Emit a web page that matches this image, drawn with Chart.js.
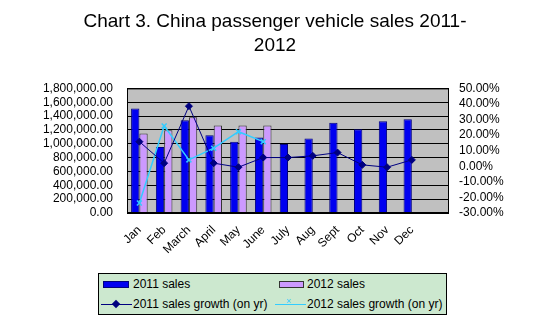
<!DOCTYPE html>
<html>
<head>
<meta charset="utf-8">
<script src="https://cdn.jsdelivr.net/npm/chart.js@4/dist/chart.umd.min.js"></script>
<style>
  body { margin: 0; background: #fff; }
  #wrap { position: relative; width: 550px; height: 323px; }
  #legend {
    position: absolute; left: 98px; top: 273px; width: 347px; height: 40px;
    background: #cce8cf; border: 1px solid #000;
    font: 12px Arial, "Liberation Sans", sans-serif; color: #000;
  }
  .item { position: absolute; white-space: nowrap; }
  .sw { position: absolute; box-sizing: border-box; }
</style>
</head>
<body>
<div id="wrap">
  <canvas id="myChart" width="550" height="323"></canvas>
  <div id="legend">
    <div class="sw" style="left:4px;top:7px;width:26px;height:7px;background:#0000f0;border:1px solid #000080"></div>
    <div class="item" style="left:34px;top:3px">2011 sales</div>
    <div class="sw" style="left:180px;top:7px;width:25px;height:7px;background:#cc99ff;border:1px solid #333"></div>
    <div class="item" style="left:208px;top:3px">2012 sales</div>

    <div class="sw" style="left:2px;top:30px;width:31px;height:1px;background:#000080"></div>
    <div class="sw" style="left:14px;top:27px;width:6px;height:6px;background:#000080;transform:rotate(45deg)"></div>
    <div class="item" style="left:34px;top:23px">2011 sales growth (on yr)</div>
    <div class="sw" style="left:176px;top:30px;width:31px;height:1px;background:#33ccff"></div>
    <div class="item" style="left:187px;top:22px;color:#33ccff;font-size:9px">×</div>
    <div class="item" style="left:208px;top:23px">2012 sales growth (on yr)</div>
  </div>
</div>
<script>
const months = ["Jan", "Feb", "March", "April", "May", "June", "July", "Aug", "Sept", "Oct", "Nov", "Dec", ""];
const sales2011 = [1510000, 955000, 1340000, 1125000, 1030000, 1090000, 995000, 1075000, 1305000, 1210000, 1325000, 1355000, null];
const sales2012 = [1150000, 1195000, 1385000, 1265000, 1265000, 1265000, null, null, null, null, null, null, null];
const growth2011 = [15.8, 2.0, 38.6, 2.0, -0.6, 5.6, 5.6, 6.7, 8.8, 0.9, -0.6, 4.1, null];
const growth2012 = [-23.6, 25.9, 4.1, 11.6, 22.2, 15.8, null, null, null, null, null, null, null];
const titleLines = ["Chart 3. China passenger vehicle sales 2011-", "2012"];

const font = { family: "Arial, 'Liberation Sans', sans-serif", size: 12 };

// grey plot background with black frame
const plotFrame = {
    id: "plotFrame",
    beforeDraw(chart) {
        const { ctx, chartArea: a } = chart;
        ctx.save();
        ctx.fillStyle = "#c0c0c0";
        ctx.fillRect(a.left, a.top, a.right - a.left, a.bottom - a.top);
        ctx.restore();
    },
    afterDatasetsDraw(chart) {
        const { ctx, chartArea: a } = chart;
        ctx.save();
        ctx.strokeStyle = "#000";
        ctx.lineWidth = 1;
        ctx.strokeRect(a.left + 0.5, a.top + 0.5, a.right - a.left - 1, a.bottom - a.top - 1);
        ctx.restore();
    },
};

const data = {
    labels: months,
    datasets: [
        {
            type: "line",
            label: "2011 sales growth (on yr)",
            data: growth2011,
            yAxisID: "y1",
            borderColor: "#000080",
            backgroundColor: "#000080",
            borderWidth: 1,
            pointStyle: "rectRot",
            pointRadius: 3.5,
            tension: 0,
            order: 0,
        },
        {
            type: "line",
            label: "2012 sales growth (on yr)",
            data: growth2012,
            yAxisID: "y1",
            borderColor: "#33ccff",
            backgroundColor: "#33ccff",
            borderWidth: 1.5,
            pointStyle: "crossRot",
            pointRadius: 3.5,
            pointBorderWidth: 1.5,
            tension: 0,
            order: 0,
        },
        {
            label: "2011 sales",
            data: sales2011,
            backgroundColor: "#0000f0",
            borderColor: "#000080",
            borderWidth: 1,
            categoryPercentage: 0.67,
            barPercentage: 1,
            order: 1,
        },
        {
            label: "2012 sales",
            data: sales2012,
            backgroundColor: "#cc99ff",
            borderColor: "#333333",
            borderWidth: 1,
            categoryPercentage: 0.67,
            barPercentage: 1,
            order: 1,
        },
    ],
};

const config = {
    type: "bar",
    data: data,
    plugins: [plotFrame],
    options: {
        responsive: false,
        animation: false,
        layout: { padding: 0 },
        plugins: {
            legend: { display: false },
            tooltip: { enabled: false },
            title: {
                display: true,
                text: titleLines,
                color: "#000",
                font: { family: font.family, size: 19, weight: "normal", lineHeight: 1.3 },
                padding: { top: 9, bottom: 30 },
            },
        },
        scales: {
            x: {
                grid: { display: false },
                border: { display: false },
                ticks: { color: "#000", font: font, autoSkip: false, maxRotation: 45, minRotation: 45, padding: 2 },
                afterFit(scale) { scale.height = 110; },
            },
            y: {
                position: "left",
                min: 0,
                max: 1800000,
                ticks: {
                    stepSize: 200000,
                    autoSkip: false,
                    color: "#000",
                    font: font,
                    padding: 14,
                    callback: (v) => v.toLocaleString("en-US", { minimumFractionDigits: 2, maximumFractionDigits: 2 }),
                },
                grid: { color: "#000", drawTicks: false, lineWidth: 1 },
                border: { display: false },
                afterFit(scale) { scale.width = 127; },
            },
            y1: {
                position: "right",
                min: -30,
                max: 50,
                ticks: {
                    stepSize: 10,
                    autoSkip: false,
                    color: "#000",
                    font: font,
                    padding: 10,
                    callback: (v) => v.toFixed(2) + "%",
                },
                grid: { display: false, drawTicks: false },
                border: { display: false },
                afterFit(scale) { scale.width = 101; },
            },
        },
    },
};

new Chart(document.getElementById("myChart"), config);
</script>
</body>
</html>
